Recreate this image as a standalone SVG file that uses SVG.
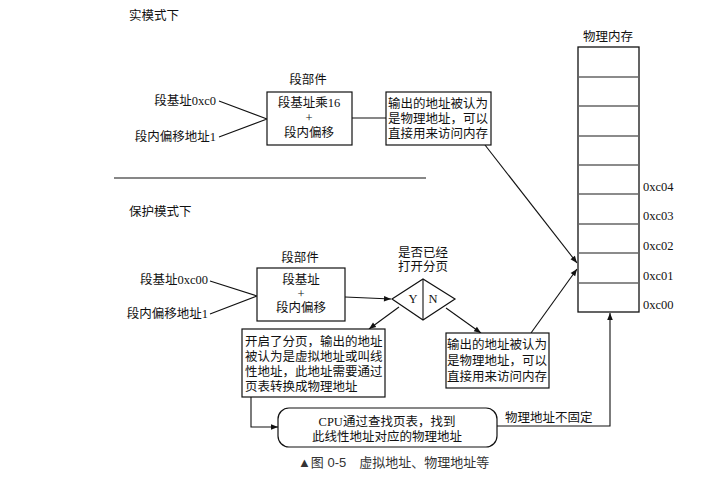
<svg xmlns="http://www.w3.org/2000/svg" width="716" height="482" viewBox="0 0 716 482">
<style>
text{font-family:"Liberation Serif","Noto Sans CJK SC",serif;font-size:12.5px;fill:#111;dominant-baseline:central}
.c{text-anchor:middle}
.r{text-anchor:end}
.box{fill:#fff;stroke:#111;stroke-width:1.2}
.ln{fill:none;stroke:#111;stroke-width:1.1}
.mem{stroke:#666;stroke-width:1.4}
.cap{font-family:"Liberation Sans","Noto Sans CJK SC",sans-serif;font-size:13px;fill:#333}
</style>
<defs>
<marker id="ah" viewBox="0 0 10 10" refX="10" refY="5" markerWidth="8" markerHeight="7" markerUnits="userSpaceOnUse" orient="auto">
<path d="M0,1 L10,5 L0,9 z" fill="#111"/>
</marker>
</defs>
<rect width="716" height="482" fill="#fff"/>

<text x="129" y="16">实模式下</text>
<text x="129" y="212">保护模式下</text>

<g id="connectors">
<path class="ln" d="M219,101 L267,119 M219,137 L267,119"/>
<path class="ln" d="M352,118 L386,118"/>
<path class="ln" d="M485,145 L577,263" marker-end="url(#ah)"/>
<path class="ln" d="M114,178 L426,178" stroke-width="1.3"/>
<path class="ln" d="M210,281 L257,296 M210,314 L257,296"/>
<path class="ln" d="M345,297 L391,299" marker-end="url(#ah)"/>
<path class="ln" d="M399,307 L369,329" marker-end="url(#ah)"/>
<path class="ln" d="M446,308 L481,333" marker-end="url(#ah)"/>
<path class="ln" d="M531,333 L577,269" marker-end="url(#ah)"/>
<path class="ln" d="M251,397 L251,427 L278,427" marker-end="url(#ah)"/>
<path class="ln" d="M497,426 L610,426 L610,313" marker-end="url(#ah)"/>
</g>

<g id="real-inputs">
<text class="r" x="216" y="101">段基址0xc0</text>
<text class="r" x="216" y="137">段内偏移地址1</text>
</g>
<g id="real-seg">
<text class="c" x="308" y="80">段部件</text>
<rect class="box" x="267" y="92" width="85" height="53"/>
<text class="c" x="309" y="103">段基址乘16</text>
<text class="c" x="309" y="118">+</text>
<text class="c" x="309" y="133">段内偏移</text>
</g>
<g id="real-out">
<rect class="box" x="386" y="92" width="105" height="53"/>
<text class="c" x="438" y="104">输出的地址被认为</text>
<text class="c" x="438" y="119">是物理地址，可以</text>
<text class="c" x="438" y="134">直接用来访问内存</text>
</g>

<g id="prot-inputs">
<text class="r" x="208" y="280">段基址0xc00</text>
<text class="r" x="208" y="314">段内偏移地址1</text>
</g>
<g id="prot-seg">
<text class="c" x="300" y="258">段部件</text>
<rect class="box" x="257" y="268" width="88" height="53"/>
<text class="c" x="301" y="280">段基址</text>
<text class="c" x="301" y="294">+</text>
<text class="c" x="301" y="308">段内偏移</text>
</g>
<g id="decision">
<text class="c" x="423" y="253">是否已经</text>
<text class="c" x="423" y="267">打开分页</text>
<path class="box" d="M392,299 L423,279 L455,299 L423,320 Z"/>
<path class="ln" d="M423,279 L423,320"/>
<text class="c" x="413" y="299">Y</text>
<text class="c" x="433" y="299">N</text>
</g>
<g id="paging-box">
<rect class="box" x="242" y="329" width="143" height="68"/>
<text x="245" y="342">开启了分页，输出的地址</text>
<text x="245" y="357">被认为是虚拟地址或叫线</text>
<text x="245" y="372">性地址，此地址需要通过</text>
<text x="245" y="387">页表转换成物理地址</text>
</g>
<g id="prot-out">
<rect class="box" x="446" y="333" width="103" height="55"/>
<text class="c" x="497" y="345">输出的地址被认为</text>
<text class="c" x="497" y="361">是物理地址，可以</text>
<text class="c" x="497" y="377">直接用来访问内存</text>
</g>
<g id="cpu">
<rect class="box" x="278" y="408" width="219" height="39" rx="11"/>
<text class="c" x="387" y="422">CPU通过查找页表，找到</text>
<text class="c" x="387" y="437">此线性地址对应的物理地址</text>
</g>
<text x="505" y="418">物理地址不固定</text>

<g id="memory">
<text class="c" x="608" y="37">物理内存</text>
<rect x="578" y="47" width="61" height="265" fill="#fff" stroke="#111" stroke-width="1.3"/>
<path class="mem" d="M578,77 H639 M578,106 H639 M578,136 H639 M578,165 H639 M578,194 H639 M578,224 H639 M578,253 H639 M578,283 H639"/>
<text x="643" y="187">0xc04</text>
<text x="643" y="216">0xc03</text>
<text x="643" y="246">0xc02</text>
<text x="643" y="276">0xc01</text>
<text x="643" y="305">0xc00</text>
</g>

<text class="cap" x="298" y="462">▲图 0-5　虚拟地址、物理地址等</text>
</svg>
